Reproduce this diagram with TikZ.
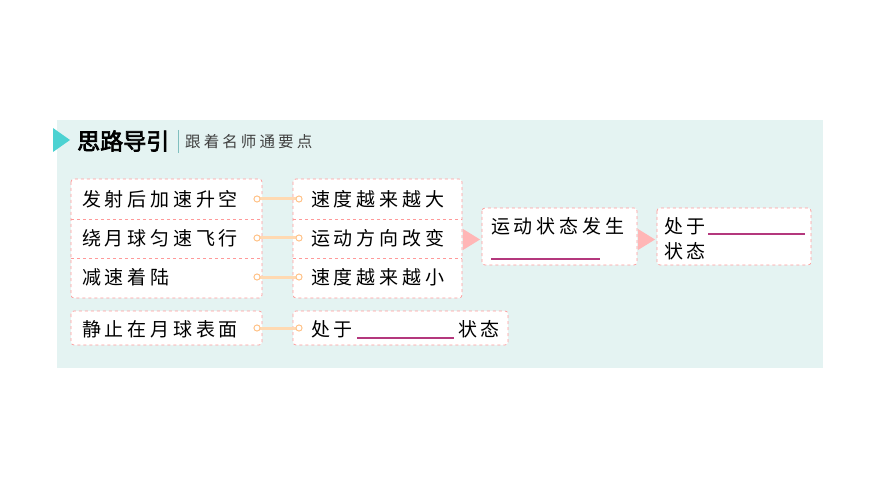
\documentclass[tikz,border=0pt]{standalone}
\usepackage{fontspec}
\setmainfont{Noto Sans CJK SC}[LetterSpace=20]
\newfontfamily\cjkb{Noto Sans CJK SC}[FakeBold=3]
\definecolor{bg}{HTML}{E4F3F2}
\begin{document}
\begin{tikzpicture}[x=1pt,y=-1pt,
 bx/.style={draw=pink!80!red,dashed,rounded corners=3pt,fill=white,line width=0.7pt},
 tx/.style={font=\fontsize{19}{22}\selectfont,anchor=west,inner sep=0},
 dot/.style={circle,draw=orange!50,fill=white,inner sep=0,minimum size=6pt,line width=0.8pt},
 lnk/.style={draw=orange!30,line width=3pt},
 arr/.style={fill=pink!70!red!60},
 blank/.style={draw=magenta!70!black,line width=1.2pt}]
\useasboundingbox (0,0) rectangle (870,489);
\fill[bg] (57,120) rectangle (823,368);
\fill[teal!50!cyan!70] (53,128) -- (70,140) -- (53,152) -- cycle;
\node[tx,font=\cjkb\fontsize{23}{24}\selectfont,anchor=west] (t) at (77,141) {思路导引};
\draw[teal!50,line width=1pt] (178,130) -- (178,153);
\node[tx,font=\fontsize{15.5}{16}\selectfont,text=black!75] (st) at (185,142) {跟着名师通要点};
% left column
\draw[bx] (71,179) rectangle (262,298);
\draw[pink!80!red,dashed,line width=0.7pt] (71,219) -- (262,219) (71,258) -- (262,258);
\draw[bx] (293,179) rectangle (462,298);
\draw[pink!80!red,dashed,line width=0.7pt] (293,219) -- (462,219) (293,258) -- (462,258);
\node[tx] (a1) at (82,199) {发射后加速升空};
\node[tx] (a2) at (82,238) {绕月球匀速飞行};
\node[tx] (a3) at (82,277) {减速着陆};
\node[tx] (b1) at (311,199) {速度越来越大};
\node[tx] (b2) at (311,238) {运动方向改变};
\node[tx] (b3) at (311,277) {速度越来越小};
\foreach \y/\i in {199/1,238/2,277/3}{
 \node[dot] (l\i) at (257,\y) {};
 \node[dot] (r\i) at (299,\y) {};
 \draw[lnk] (l\i) -- (r\i);
 \node[dot] at (257,\y) {};
 \node[dot] at (299,\y) {};
}
% bottom row
\draw[bx] (71,311) rectangle (262,345);
\node[tx] (a4) at (82,329) {静止在月球表面};
\draw[bx] (293,311) rectangle (508,345);
\node[tx] (b4) at (311,329) {处于};
\node[tx] (b5) at (458,329) {状态};
\draw[blank] (357,338) -- (454,338);
\node[dot] (l4) at (257,328) {};
\node[dot] (r4) at (299,328) {};
\draw[lnk] (l4) -- (r4);
\node[dot] at (257,328) {};
\node[dot] at (299,328) {};
% arrows and right boxes
\fill[arr] (463,229) -- (480,239.5) -- (463,250) -- cycle;
\draw[bx] (482,208) rectangle (637,265);
\node[tx] (c1) at (491,226) {运动状态发生};
\draw[blank] (491,259) -- (600,259);
\fill[arr] (638,229) -- (655,239.5) -- (638,250) -- cycle;
\draw[bx] (657,208) rectangle (811,265);
\node[tx] (d1) at (664,226) {处于};
\draw[blank] (708,234) -- (805,234);
\node[tx] (d2) at (664,251) {状态};
\end{tikzpicture}
\end{document}
